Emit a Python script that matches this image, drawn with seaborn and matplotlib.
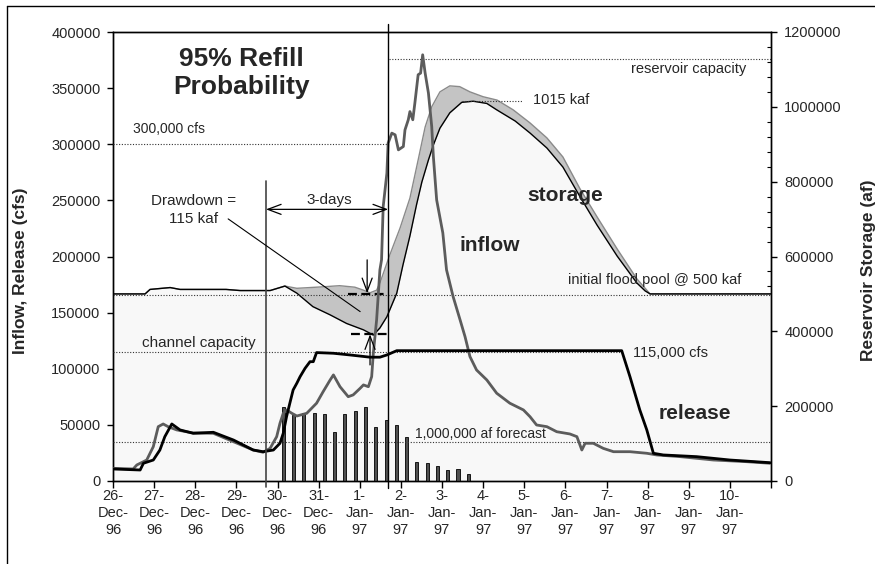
import matplotlib
matplotlib.use("Agg")
import matplotlib.pyplot as plt
import seaborn as sns
from matplotlib.lines import Line2D
from matplotlib.ticker import MultipleLocator

# x values are days after 26-Dec-96 00:00
tick_day = [26, 27, 28, 29, 30, 31, 1, 2, 3, 4, 5, 6, 7, 8, 9, 10]
tick_mon = ["Dec"] * 6 + ["Jan"] * 10
tick_yr = ["96"] * 6 + ["97"] * 10

inflow_day = [0.01, 0.49, 0.58, 0.82, 0.98, 1.10, 1.22, 1.34, 1.55, 1.95, 2.44, 2.93, 3.41, 3.65,
              3.82, 3.98, 4.06, 4.14, 4.22, 4.35, 4.47, 4.71, 4.95, 5.11, 5.28, 5.36, 5.52, 5.72,
              5.84, 6.01, 6.09, 6.21, 6.29, 6.33, 6.41, 6.49, 6.53, 6.57, 6.66, 6.69, 6.78, 6.86,
              6.94, 7.06, 7.10, 7.18, 7.22, 7.29, 7.34, 7.42, 7.48, 7.53, 7.59, 7.67, 7.71, 7.75,
              7.79, 7.87, 8.02, 8.11, 8.27, 8.44, 8.56, 8.68, 8.84, 9.09, 9.33, 9.65, 9.98, 10.14,
              10.30, 10.55, 10.79, 11.11, 11.28, 11.40, 11.48, 11.68, 11.92, 12.17, 12.57, 12.98,
              13.22, 13.79, 14.60, 15.41, 15.98]
inflow_cfs = [11300, 10700, 14300, 18700, 30600, 48400, 50800, 48400, 45500, 42800, 42500, 35000,
              27600, 25600, 29100, 39500, 51400, 60300, 63300, 60300, 57900, 60300, 69300, 79600,
              90000, 94500, 84000, 75100, 76700, 82600, 85600, 84000, 93000, 113800, 143500,
              188100, 197000, 244500, 274300, 301000, 309900, 308400, 295000, 298000, 312800,
              321800, 329100, 321800, 336600, 361900, 363400, 379700, 363400, 345600, 330700,
              315800, 289000, 250400, 221000, 188100, 164300, 143500, 128600, 110800, 98900,
              90000, 78200, 69300, 63300, 57300, 49900, 48400, 43900, 41900, 39500, 27600, 33600,
              33600, 29100, 26100, 26100, 24700, 23200, 21700, 18700, 17200, 15800]

release_day = [0.00, 0.66, 0.74, 0.98, 1.14, 1.26, 1.43, 1.63, 1.95, 2.44, 2.93, 3.41, 3.65, 3.90,
               4.06, 4.14, 4.22, 4.30, 4.38, 4.47, 4.55, 4.67, 4.79, 4.87, 4.95, 5.36, 5.76, 6.25,
               6.49, 6.66, 6.90, 12.37, 12.57, 12.81, 12.98, 13.14, 13.38, 14.19, 15.00, 15.98]
release_cfs = [10700, 9800, 15800, 18700, 27600, 39500, 50800, 45500, 42500, 43400, 36500, 27600,
               26100, 27600, 33600, 42500, 57300, 69300, 81100, 87100, 93000, 100400, 106300,
               106300, 114400, 113800, 112300, 110300, 110300, 112300, 116100, 116100, 93000,
               63300, 45500, 24700, 23200, 21700, 18700, 16300]

storage_day = [0.00, 0.78, 0.90, 1.39, 1.63, 2.75, 3.09, 3.82, 4.06, 4.18, 4.47, 4.86, 5.28, 5.68,
               6.09, 6.33, 6.49, 6.66, 6.90, 7.05, 7.22, 7.38, 7.51, 7.67, 7.79, 7.95, 8.19, 8.48,
               8.76, 9.09, 9.33, 9.78, 10.14, 10.55, 10.94, 11.36, 11.77, 12.26, 12.74, 12.94,
               13.06, 16.00]
storage_af = [500000, 500000, 512000, 517000, 512000, 512000, 509000, 509000, 517000, 521000,
              502000, 466000, 444000, 421000, 404000, 390000, 409000, 439000, 502000, 577000,
              655000, 738000, 799000, 858000, 898000, 943000, 984000, 1012000, 1015000, 1009000,
              992000, 962000, 930000, 890000, 839000, 759000, 684000, 601000, 529000, 508000,
              500000, 500000]

forecast_day = [0.00, 0.78, 0.90, 1.39, 1.63, 2.75, 3.09, 3.82, 4.06, 4.18, 4.47, 5.11, 5.51, 5.88,
                6.09, 6.25, 6.41, 6.49, 6.73, 6.98, 7.22, 7.42, 7.59, 7.75, 7.95, 8.19, 8.43, 8.68,
                9.00, 9.34, 9.73, 10.14, 10.55, 10.94, 11.36, 11.77, 12.26, 12.74, 13.06, 16.00]
forecast_af = [500000, 500000, 512000, 517000, 512000, 512000, 509000, 509000, 517000, 521000,
               515000, 519000, 522000, 518000, 510000, 503000, 510000, 529000, 604000, 676000,
               756000, 858000, 946000, 1000000, 1040000, 1056000, 1054000, 1040000, 1027000,
               1018000, 992000, 957000, 917000, 866000, 780000, 706000, 620000, 540000, 500000,
               500000]

bar_day = [4.14, 4.39, 4.64, 4.89, 5.14, 5.39, 5.64, 5.89, 6.14, 6.39, 6.64, 6.89, 7.14, 7.39,
           7.64, 7.89, 8.14, 8.39, 8.64]
bar_cfs = [66200, 58800, 60900, 60900, 59700, 43700, 59700, 62700, 66200, 47900, 54400, 50200,
           39500, 17200, 15800, 13400, 9800, 10700, 6200]

sns.set_style("ticks")
plt.rcParams["font.family"] = ["Liberation Sans", "DejaVu Sans"]

fig = plt.figure(figsize=(8.75, 5.64), dpi=100)
ax = fig.add_axes([113 / 875, 1 - 481 / 564, 658 / 875, 449 / 564])
ax2 = ax.twinx()
ax.set_zorder(ax2.get_zorder() + 1)
ax.patch.set_visible(False)
ax2.patch.set_visible(True)
ax2.patch.set_facecolor("white")

# storage areas (right axis)
ax2.fill_between(forecast_day, forecast_af, 0, color="#c4c4c4", lw=0, zorder=1)
ax2.fill_between(storage_day, storage_af, 0, color="#f8f8f8", lw=0, zorder=2)
sns.lineplot(x=forecast_day, y=forecast_af, ax=ax2, color="#8a8a8a", lw=1, sort=False,
             estimator=None, legend=False, zorder=3)
sns.lineplot(x=storage_day, y=storage_af, ax=ax2, color="black", lw=1, sort=False,
             estimator=None, legend=False, zorder=4)

dot = (0, (1, 1.5))
ax2.plot([0, 16], [497000, 497000], color="#333333", lw=0.8, ls=dot, zorder=5)
ax2.plot([6.72, 16], [1128000, 1128000], color="#333333", lw=0.8, ls=dot, zorder=5)
ax2.plot([8.49, 9.95], [1015000, 1015000], color="#333333", lw=0.8, ls=dot, zorder=5)
ax2.plot([5.71, 6.68], [500000, 500000], color="black", lw=1.6, ls=(0, (4, 2)), zorder=6)
ax2.plot([5.78, 6.69], [392000, 392000], color="black", lw=1.6, ls=(0, (4, 2)), zorder=6)

# flows (left axis)
ax.bar(bar_day, bar_cfs, width=0.075, color="#505050", edgecolor="black", lw=0.6, zorder=2)
sns.lineplot(x=inflow_day, y=inflow_cfs, ax=ax, color="#5c5c5c", lw=2, sort=False,
             estimator=None, legend=False, zorder=4)
sns.lineplot(x=release_day, y=release_cfs, ax=ax, color="black", lw=2, sort=False,
             estimator=None, legend=False, zorder=5)

ax.plot([0, 6.69], [300000, 300000], color="#333333", lw=0.8, ls=dot, zorder=3)
ax.plot([0, 12.37], [114700, 114700], color="#333333", lw=0.8, ls=dot, zorder=3)
ax.plot([0, 16], [34800, 34800], color="#333333", lw=0.8, ls=dot, zorder=3)

ax.plot([3.72, 3.72], [267000, -5500], color="#444444", lw=1.2, clip_on=False, zorder=6)
ax.plot([6.69, 6.69], [407000, -6000], color="black", lw=1.0, clip_on=False, zorder=6)

ax.annotate("", xy=(3.72, 242000), xytext=(6.69, 242000),
            arrowprops=dict(arrowstyle="<->,head_length=0.8,head_width=0.3", lw=0.9,
                            color="black", mutation_scale=12, shrinkA=0, shrinkB=0), zorder=7)
ax.annotate("", xy=(6.18, 167300), xytext=(6.18, 197000),
            arrowprops=dict(arrowstyle="->,head_length=0.8,head_width=0.3", lw=0.9,
                            color="black", mutation_scale=12, shrinkA=0, shrinkB=0), zorder=7)
ax.annotate("", xy=(6.25, 130700), xytext=(6.25, 103400),
            arrowprops=dict(arrowstyle="->,head_length=0.8,head_width=0.3", lw=0.9,
                            color="black", mutation_scale=12, shrinkA=0, shrinkB=0), zorder=7)
ax.plot([2.80, 6.01], [233500, 150900], color="black", lw=0.8, zorder=7)

small = 10.5
ax.text(3.13, 363600, "95% Refill\nProbability", ha="center", va="center", fontsize=19,
        fontweight="bold", zorder=8)
ax.text(0.49, 313700, "300,000 cfs", ha="left", va="center", fontsize=small - 0.5)
ax.text(15.39, 367200, "reservoir capacity", ha="right", va="center", fontsize=small)
ax.text(10.21, 339600, "1015 kaf", ha="left", va="center", fontsize=small)
ax.text(15.29, 179100, "initial flood pool @ 500 kaf", ha="right", va="center", fontsize=small)
ax.text(0.71, 123300, "channel capacity", ha="left", va="center", fontsize=small + 0.5)
ax.text(12.65, 114400, "115,000 cfs", ha="left", va="center", fontsize=small)
ax.text(7.34, 41900, "1,000,000 af forecast", ha="left", va="center", fontsize=small - 0.5)
ax.text(1.95, 241100, "Drawdown =\n115 kaf", ha="center", va="center", fontsize=11,
        linespacing=1.35)
ax.text(5.26, 250400, "3-days", ha="center", va="center", fontsize=11)
ax.text(11.0, 254000, "storage", ha="center", va="center", fontsize=15, fontweight="bold")
ax.text(9.16, 209500, "inflow", ha="center", va="center", fontsize=15, fontweight="bold")
ax.text(14.16, 59700, "release", ha="center", va="center", fontsize=15, fontweight="bold")

# axes and ticks
ax.set_xlim(0, 16)
ax.set_ylim(0, 400000)
ax2.set_ylim(0, 1200000)
ax.set_xlabel("")
ax.set_ylabel("")
ax2.set_ylabel("")

xlabels = [f"{d}-\n{m}-\n{y}" for d, m, y in zip(tick_day, tick_mon, tick_yr)] + [""]
ax.set_xticks(range(17))
ax.set_xticklabels(xlabels, fontsize=small, linespacing=1.25)
yt = list(range(0, 400001, 50000))
ax.set_yticks(yt)
ax.set_yticklabels([str(v) for v in yt], fontsize=small)
yt2 = list(range(0, 1200001, 200000))
ax2.set_yticks(yt2)
ax2.set_yticklabels([str(v) for v in yt2], fontsize=small)
ax2.yaxis.set_minor_locator(MultipleLocator(40000))

ax.tick_params(axis="x", direction="out", length=5, width=1, pad=1, color="black")
ax.tick_params(axis="y", direction="out", length=4, width=1, pad=5, color="black")
ax2.tick_params(axis="y", which="major", direction="out", length=4.5, width=1, pad=5,
                color="black")
ax2.tick_params(axis="y", which="minor", direction="in", length=3, width=0.8, color="black",
                right=True)
for a in (ax, ax2):
    for s in a.spines.values():
        s.set_visible(True)
        s.set_color("black")
        s.set_linewidth(1)

fig.text(21 / 875, 1 - 271 / 564, "Inflow, Release (cfs)", rotation=90, ha="center",
         va="center", fontsize=12.5, fontweight="bold")
fig.text(868 / 875, 1 - 270 / 564, "Reservoir Storage (af)", rotation=90, ha="center",
         va="center", fontsize=12.5, fontweight="bold")

fig.add_artist(Line2D([7 / 875, 7 / 875], [0, 1 - 6 / 564], transform=fig.transFigure,
                      color="black", lw=1))
fig.add_artist(Line2D([7 / 875, 1], [1 - 6 / 564, 1 - 6 / 564], transform=fig.transFigure,
                      color="black", lw=1))

fig.savefig("out.png", dpi=100)
